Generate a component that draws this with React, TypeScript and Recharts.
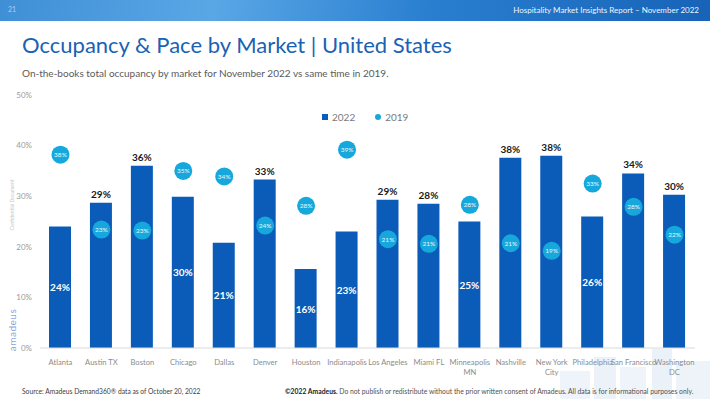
import {
  ComposedChart,
  Bar,
  Scatter,
  XAxis,
  YAxis,
  LabelList,
} from "recharts";

const markets = [
  "Atlanta",
  "Austin TX",
  "Boston",
  "Chicago",
  "Dallas",
  "Denver",
  "Houston",
  "Indianapolis",
  "Los Angeles",
  "Miami FL",
  "Minneapolis MN",
  "Nashville",
  "New York City",
  "Philadelphia",
  "San Francisco",
  "Washington DC",
];

// wrapped tick labels, as on the slide
const tickLines: Record<string, string[]> = {
  "Minneapolis MN": ["Minneapolis", "MN"],
  "New York City": ["New York", "City"],
  "Washington DC": ["Washington", "DC"],
};

const occ2022 = [24, 28.7, 36, 29.9, 20.8, 33.3, 15.6, 23, 29.3, 28.5, 25, 37.6, 38, 26, 34.5, 30.3];
const occ2019 = [38.2, 23.4, 23.2, 35, 33.9, 24.2, 28.1, 39.2, 21.5, 20.6, 28.3, 20.7, 19.2, 32.5, 27.9, 22.4];
const labels2022 = ["24%", "29%", "36%", "30%", "21%", "33%", "16%", "23%", "29%", "28%", "25%", "38%", "38%", "26%", "34%", "30%"];
const labels2019 = ["38%", "23%", "23%", "35%", "34%", "24%", "28%", "39%", "21%", "21%", "28%", "21%", "19%", "33%", "28%", "22%"];
const yTicks = [0, 10, 20, 30, 40, 50];

const BAR_COLOR = "#0b5cb8";
const DOT_COLOR = "#16a8dc";
const FONT = "Lato, 'Open Sans', sans-serif";

const data = markets.map((name, i) => ({
  name,
  y2022: occ2022[i],
  y2019: occ2019[i],
  l2022: labels2022[i],
  l2019: labels2019[i],
}));

function MarketTick(props: any) {
  const { x, y, payload } = props;
  const lines = tickLines[payload.value] || [payload.value];
  return (
    <text x={x} y={y + 9} textAnchor="middle" fill="#8c8c8c" fontSize={7.6} fontFamily={FONT}>
      {lines.map((l, i) => (
        <tspan key={i} x={x} dy={i === 0 ? 0 : 10}>
          {l}
        </tspan>
      ))}
    </text>
  );
}

function BarValue(props: any) {
  const { x, y, width, height, index } = props;
  const inside = occ2019[index] > occ2022[index];
  const cx = x + width / 2;
  if (inside) {
    return (
      <text x={cx} y={y + height / 2 + 4} textAnchor="middle" fill="#fff" fontSize={10} fontWeight={700} fontFamily={FONT}>
        {labels2022[index]}
      </text>
    );
  }
  return (
    <text x={cx} y={y - 5} textAnchor="middle" fill="#1a1a1a" fontSize={10} fontWeight={700} fontFamily={FONT}>
      {labels2022[index]}
    </text>
  );
}

function Dot(props: any) {
  const { cx, cy, payload } = props;
  return (
    <g>
      <circle cx={cx} cy={cy} r={9} fill={DOT_COLOR} />
      <text x={cx} y={cy + 2.5} textAnchor="middle" fill="#e8f6fc" fontSize={6.5} fontFamily={FONT}>
        {payload.l2019}
      </text>
    </g>
  );
}

export default function App() {
  return (
    <div
      style={{
        position: "fixed",
        left: 0,
        top: 0,
        width: 710,
        height: 399,
        background: "#fff",
        overflow: "hidden",
        fontFamily: FONT,
      }}
    >
      {/* header band */}
      <div
        style={{
          position: "absolute",
          left: 0,
          top: 0,
          width: 710,
          height: 21,
          background: "linear-gradient(100deg, #3f8fd6 0%, #5aa7e6 30%, #2a7fd0 60%, #1763b8 100%)",
        }}
      />
      <div style={{ position: "absolute", left: 8, top: 5, fontSize: 7, color: "#a9cdf0" }}>21</div>
      <div style={{ position: "absolute", right: 11, top: 5, fontSize: 8, color: "#eef5fc" }}>
        Hospitality Market Insights Report – November 2022
      </div>

      {/* faint skyline behind the footer */}
      <div style={{ position: "absolute", left: 560, top: 345, width: 150, height: 54, opacity: 0.18 }}>
        <div style={{ position: "absolute", left: 0, top: 26, width: 30, height: 28, background: "#a9c3e4" }} />
        <div style={{ position: "absolute", left: 34, top: 12, width: 22, height: 42, background: "#9dbbe0" }} />
        <div style={{ position: "absolute", left: 60, top: 22, width: 26, height: 32, background: "#aac4e5" }} />
        <div style={{ position: "absolute", left: 92, top: 4, width: 20, height: 50, background: "#93b3dc" }} />
        <div style={{ position: "absolute", left: 116, top: 16, width: 34, height: 38, background: "#a3bfe2" }} />
      </div>

      <div style={{ position: "absolute", left: 22, top: 31, fontSize: 22, color: "#1a62b4", whiteSpace: "nowrap" }}>
        Occupancy &amp; Pace by Market | United States
      </div>
      <div style={{ position: "absolute", left: 22, top: 67, fontSize: 10, color: "#5a5a5a", whiteSpace: "nowrap" }}>
        On-the-books total occupancy by market for November 2022 vs same time in 2019.
      </div>

      {/* legend */}
      <div
        style={{
          position: "absolute",
          left: 322,
          top: 111,
          fontSize: 10,
          color: "#7a7a7a",
          display: "flex",
          alignItems: "center",
          gap: 4,
        }}
      >
        <span style={{ width: 6, height: 6, background: BAR_COLOR, display: "inline-block" }} />
        <span>2022</span>
        <span style={{ width: 12 }} />
        <span style={{ width: 6, height: 6, borderRadius: 3, background: DOT_COLOR, display: "inline-block" }} />
        <span>2019</span>
      </div>

      {/* side marks */}
      <div
        style={{
          position: "absolute",
          left: 12,
          top: 205,
          fontSize: 5,
          color: "#c8c8c8",
          transform: "translate(-50%, -50%) rotate(-90deg)",
          whiteSpace: "nowrap",
        }}
      >
        Confidential Document
      </div>
      <div
        style={{
          position: "absolute",
          left: 12,
          top: 330,
          fontSize: 10,
          color: "#8aa6e0",
          letterSpacing: 0.5,
          transform: "translate(-50%, -50%) rotate(-90deg)",
          whiteSpace: "nowrap",
        }}
      >
        amadeus
      </div>

      <div style={{ position: "absolute", left: 0, top: 0 }}>
        <ComposedChart
          width={710}
          height={399}
          data={data}
          margin={{ top: 95, right: 15, bottom: 0, left: 0 }}
        >
          <XAxis
            dataKey="name"
            height={51}
            interval={0}
            tick={<MarketTick />}
            tickLine={false}
            axisLine={{ stroke: "#d9d9d9" }}
          />
          <YAxis
            width={40}
            domain={[0, 50]}
            ticks={yTicks}
            tickFormatter={(v) => `${v}%`}
            tick={{ fontSize: 8, fill: "#9a9a9a", fontFamily: FONT }}
            axisLine={false}
            tickLine={false}
          />
          <Bar dataKey="y2022" fill={BAR_COLOR} barSize={22} isAnimationActive={false}>
            <LabelList dataKey="l2022" content={<BarValue />} />
          </Bar>
          <Scatter dataKey="y2019" shape={<Dot />} isAnimationActive={false} />
        </ComposedChart>
      </div>

      {/* footer */}
      <div style={{ position: "absolute", left: 22, top: 387, fontSize: 6.7, color: "#404040", whiteSpace: "nowrap" }}>
        Source: Amadeus Demand360® data as of October 20, 2022
      </div>
      <div style={{ position: "absolute", left: 285, top: 387, fontSize: 6.8, color: "#505050", whiteSpace: "nowrap" }}>
        <b style={{ color: "#1a1a1a" }}>©2022 Amadeus.</b> Do not publish or redistribute without the prior written
        consent of Amadeus. All data is for informational purposes only.
      </div>
    </div>
  );
}
